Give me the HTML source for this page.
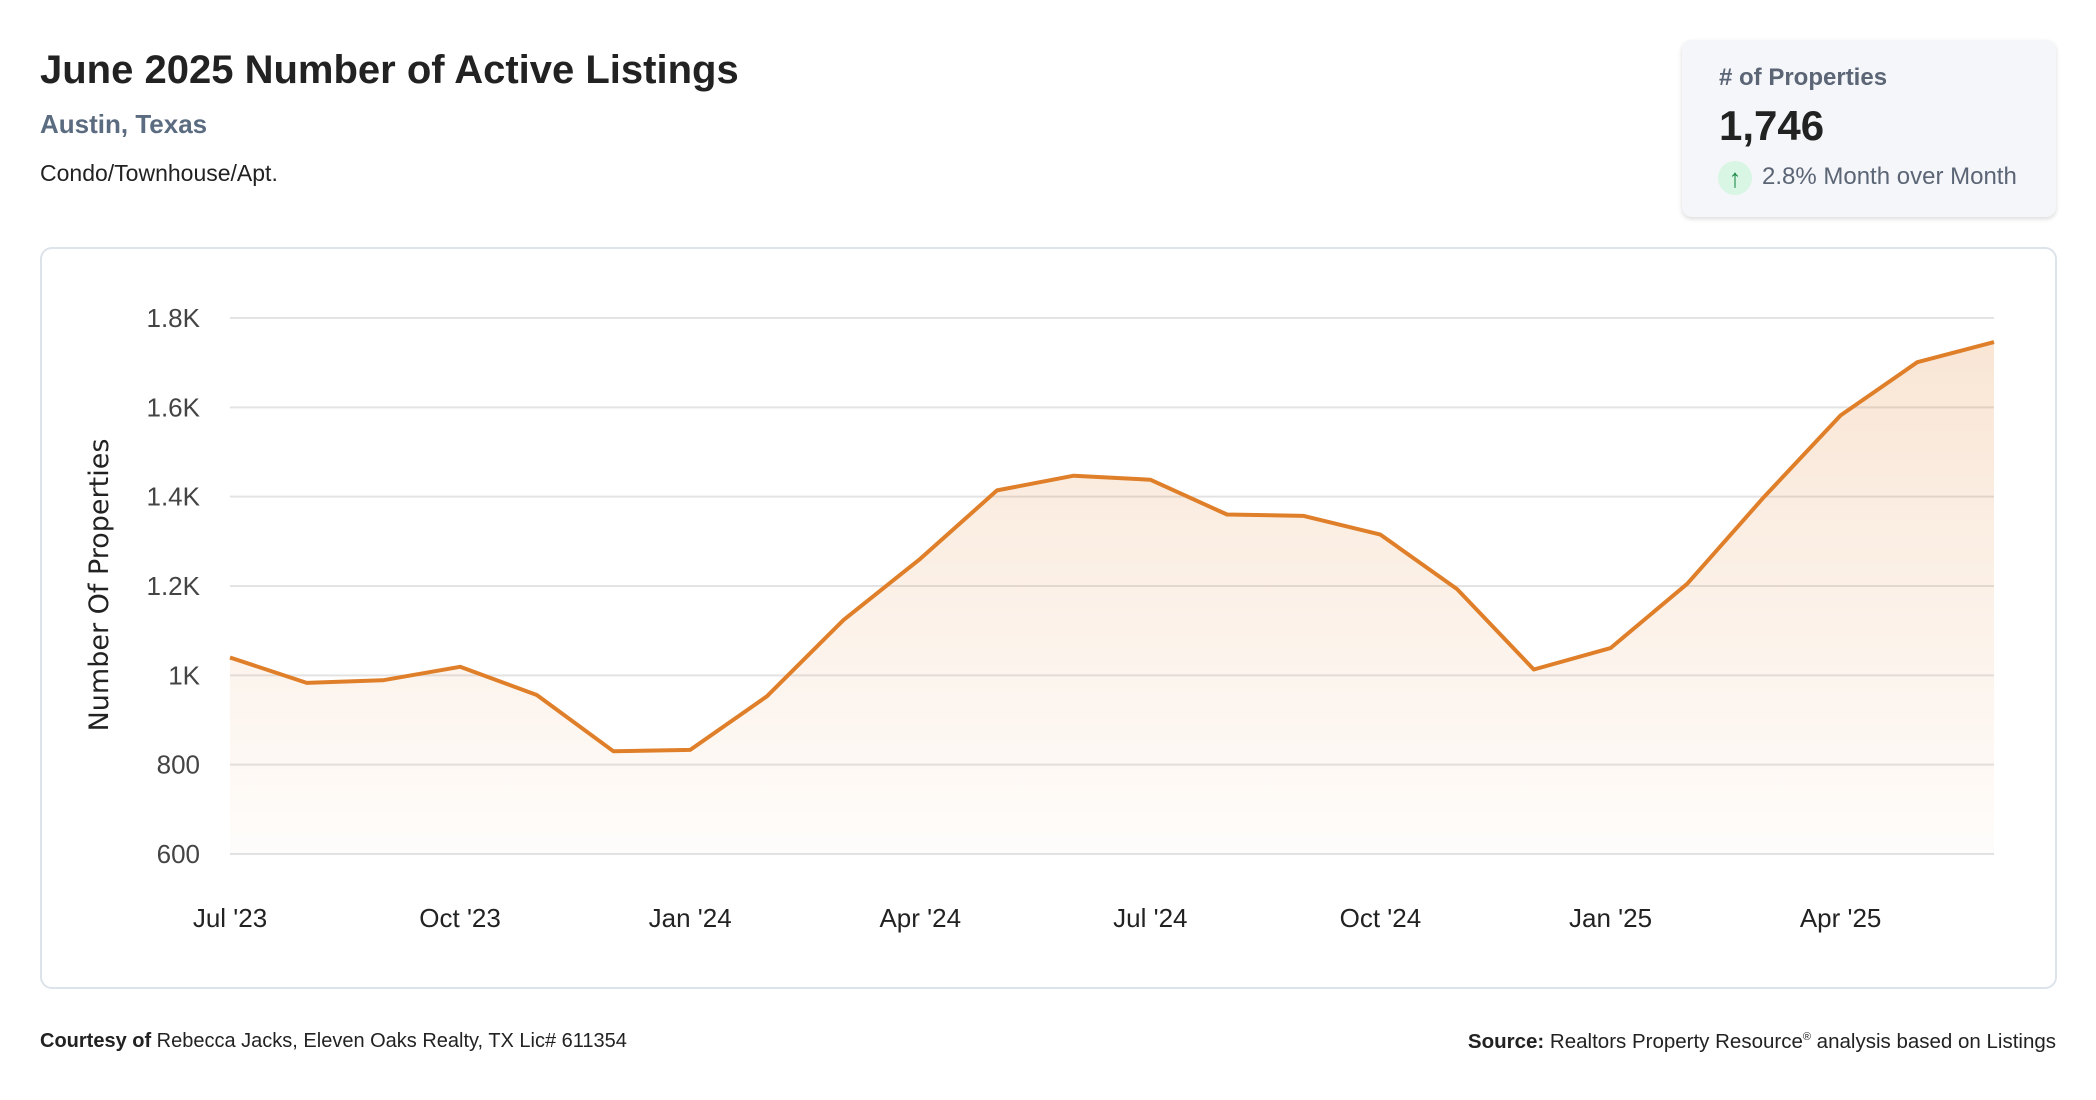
<!DOCTYPE html>
<html><head><meta charset="utf-8">
<style>
body{margin:0;width:2096px;height:1100px;background:#fff;font-family:"Liberation Sans",sans-serif;position:relative;overflow:hidden;color:#222}
.abs{position:absolute;white-space:nowrap}
</style></head><body>
<div class="abs" style="left:40px;top:48px;font-size:40px;font-weight:bold;color:#222;letter-spacing:0px">June 2025 Number of Active Listings</div>
<div class="abs" style="left:40px;top:109px;font-size:26px;font-weight:bold;color:#5b6b80">Austin, Texas</div>
<div class="abs" style="left:40px;top:160px;font-size:23px;color:#222">Condo/Townhouse/Apt.</div>

<div class="abs" style="left:1682px;top:40px;width:374px;height:177px;background:#f4f6f9;border-radius:10px;box-shadow:0 2px 5px rgba(0,0,0,0.15)">
  <div class="abs" style="left:37px;top:24px;font-size:24px;font-weight:bold;color:#5b6575">#&nbsp;of Properties</div>
  <div class="abs" style="left:37px;top:62px;font-size:42px;font-weight:bold;color:#222">1,746</div>
  <div class="abs" style="left:36px;top:121px;width:34px;height:34px;border-radius:50%;background:#d9f5e3;color:#1f8a4c;font-size:26px;line-height:34px;text-align:center">↑</div>
  <div class="abs" style="left:80px;top:123px;font-size:24px;color:#5b6575">2.8% Month over Month</div>
</div>

<div class="abs" style="left:40px;top:247px;width:2013px;height:738px;border:2px solid #dde3ea;border-radius:12px"></div>

<svg class="abs" style="left:0;top:0" width="2096" height="1100">
<defs><linearGradient id="g" x1="0" y1="0" x2="0" y2="1">
<stop offset="0" stop-color="#e07f2a" stop-opacity="0.2"/>
<stop offset="1" stop-color="#e07f2a" stop-opacity="0.02"/></linearGradient></defs>
<g id="grid"></g><g id="ylabels"></g><g id="xlabels"></g>
<path id="area" fill="url(#g)"/>
<path id="line" fill="none" stroke="#e07f2a" stroke-width="4" stroke-linejoin="round"/>
<text x="0" y="0" transform="translate(108,585) rotate(-90)" text-anchor="middle" font-family="DejaVu Sans,sans-serif" font-size="27" fill="#222">Number Of Properties</text>
</svg>

<div class="abs" style="left:40px;top:1030px;font-size:20px;color:#222"><b>Courtesy of</b> Rebecca Jacks, Eleven Oaks Realty, TX Lic# 611354</div>
<div class="abs" style="right:40px;top:1030px;font-size:20.5px;color:#222"><b>Source:</b> Realtors Property Resource<sup style="font-size:11px">®</sup> analysis based on Listings</div>

<script>
const months=["Jul '23","Aug '23","Sep '23","Oct '23","Nov '23","Dec '23","Jan '24","Feb '24","Mar '24","Apr '24","May '24","Jun '24","Jul '24","Aug '24","Sep '24","Oct '24","Nov '24","Dec '24","Jan '25","Feb '25","Mar '25","Apr '25","May '25","Jun '25"];
const listings=[1040,983,989,1019,956,830,833,953,1124,1261,1414,1447,1438,1360,1357,1315,1193,1013,1061,1205,1399,1582,1701,1746];
const yTicks=[600,800,1000,1200,1400,1600,1800];
const yTickLabels=["600","800","1K","1.2K","1.4K","1.6K","1.8K"];
const xTickIdx=[0,3,6,9,12,15,18,21];

const L=230,R=1994,T=318,B=854,ymin=600,ymax=1800;
const NS="http://www.w3.org/2000/svg";
function xs(i){return L+(R-L)*i/(months.length-1);}
function ys(v){return B-(v-ymin)/(ymax-ymin)*(B-T);}
const grid=document.getElementById('grid'),yl=document.getElementById('ylabels'),xl=document.getElementById('xlabels');
yTicks.forEach((t,k)=>{
  const ln=document.createElementNS(NS,'line');
  ln.setAttribute('x1',L);ln.setAttribute('x2',R);ln.setAttribute('y1',ys(t));ln.setAttribute('y2',ys(t));
  ln.setAttribute('stroke','#e3e3e3');ln.setAttribute('stroke-width','2');
  
  
  grid.appendChild(ln);
  const tx=document.createElementNS(NS,'text');
  tx.setAttribute('x',200);tx.setAttribute('y',ys(t)+9);tx.setAttribute('text-anchor','end');
  tx.setAttribute('font-size','26');tx.setAttribute('fill','#444');tx.setAttribute('font-family','Liberation Sans,sans-serif');
  tx.textContent=yTickLabels[k];
  
  
  yl.appendChild(tx);
});
xTickIdx.forEach(i=>{
  const tx=document.createElementNS(NS,'text');
  tx.setAttribute('x',xs(i));tx.setAttribute('y',927);tx.setAttribute('text-anchor','middle');
  tx.setAttribute('font-size','26');tx.setAttribute('fill','#222');tx.setAttribute('font-family','Liberation Sans,sans-serif');
  tx.textContent=months[i];
  
  
  xl.appendChild(tx);
});
let d='';
listings.forEach((v,i)=>{d+=(i?'L':'M')+xs(i).toFixed(1)+','+ys(v).toFixed(1);});
document.getElementById('line').setAttribute('d',d);
document.getElementById('area').setAttribute('d',d+'L'+xs(listings.length-1)+','+B+'L'+xs(0)+','+B+'Z');
</script>
</body></html>
